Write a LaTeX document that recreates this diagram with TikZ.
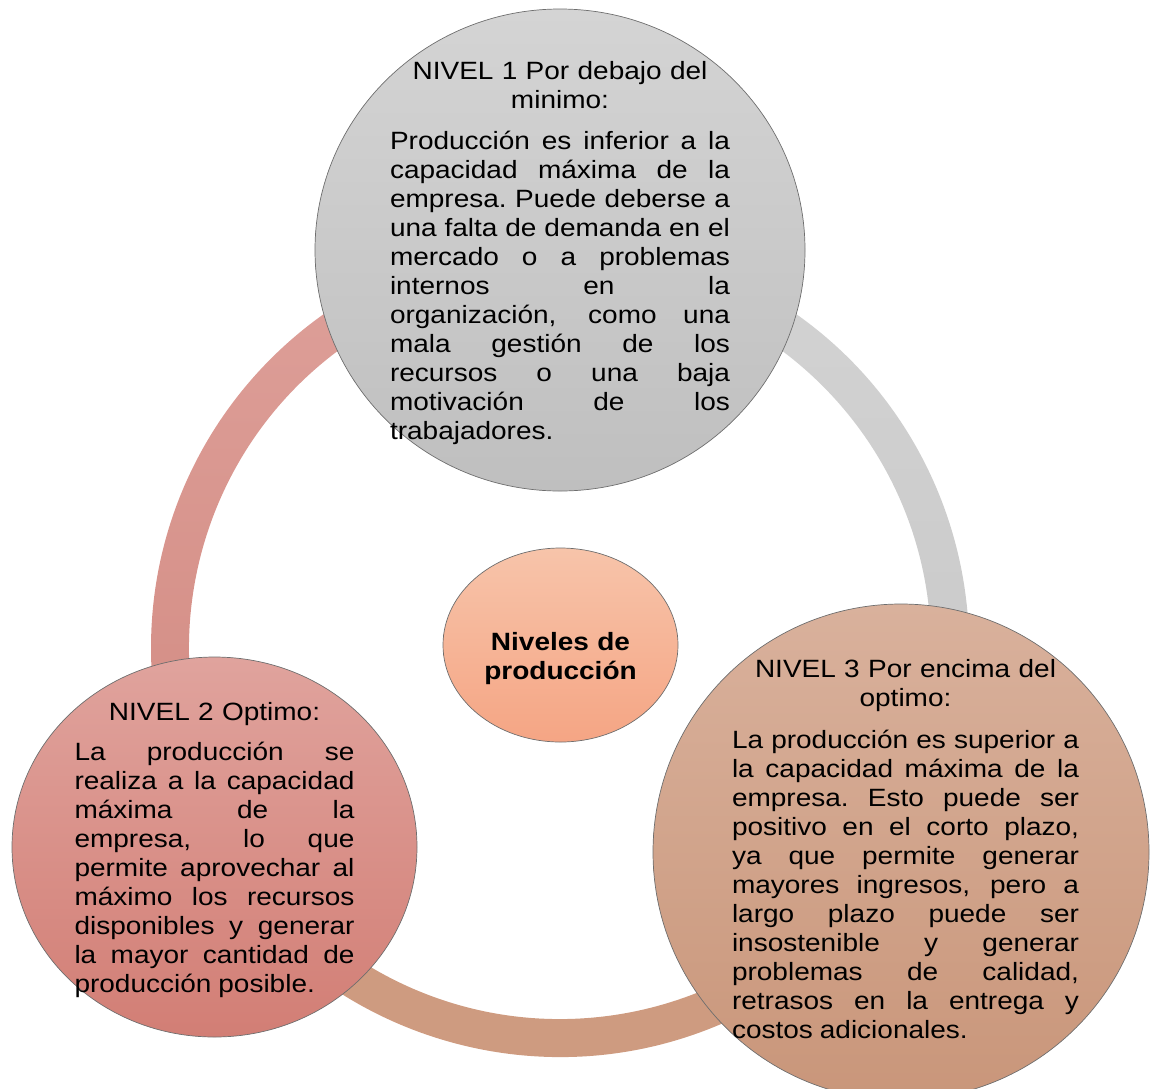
\documentclass[tikz,border=0pt]{standalone}
\usepackage{fontspec}
\setmainfont{Liberation Sans}[FakeStretch=1.12]
\usetikzlibrary{shapes.geometric,calc}
\definecolor{gTop}{HTML}{D4D4D4}
\definecolor{gBot}{HTML}{BFBFBF}
\definecolor{rTop}{HTML}{E0A39D}
\definecolor{rBot}{HTML}{D27E75}
\definecolor{tTop}{HTML}{D9B19C}
\definecolor{tBot}{HTML}{C9967A}
\definecolor{cTop}{HTML}{F7C4AA}
\definecolor{cBot}{HTML}{F5A584}
\definecolor{ringLTop}{HTML}{DEA09A}
\definecolor{ringLBot}{HTML}{D28A81}
\definecolor{ringRTop}{HTML}{D3D3D3}
\definecolor{ringRBot}{HTML}{C7C7C7}
\definecolor{ringB}{HTML}{CE9B80}
\definecolor{edge}{HTML}{6E6E6E}
\newcommand{\JL}[2]{\leavevmode{\spaceskip=0.25em plus 1fil\relax\xspaceskip=\spaceskip\hbox to #1{#2}}}
\newcommand{\LL}[2]{\leavevmode{\spaceskip=0.278em\relax\xspaceskip=\spaceskip\hbox to #1{#2\hfil}}}
\tikzset{
  bubble/.style={ellipse, draw=edge, line width=0.7pt, inner sep=0pt},
  txt/.style={inner sep=0pt, align=center, font=\fontsize{25pt}{29pt}\selectfont, anchor=north},
}
\begin{document}
\begin{tikzpicture}
\useasboundingbox (0pt,0pt) rectangle (1150pt,-1088pt);
\clip (0pt,0pt) rectangle (1150pt,-1088pt);
\coordinate (rc) at (560pt,-648pt);
% ring
\shade[top color=ringLTop, bottom color=ringLBot]
  ($(rc)+(90:409pt)$) arc[start angle=90, end angle=210, radius=409pt]
  -- ($(rc)+(210:371pt)$) arc[start angle=210, end angle=90, radius=371pt] -- cycle;
\fill[ringB]
  ($(rc)+(210:409pt)$) arc[start angle=210, end angle=330, radius=409pt]
  -- ($(rc)+(330:371pt)$) arc[start angle=330, end angle=210, radius=371pt] -- cycle;
\shade[top color=ringRTop, bottom color=ringRBot]
  ($(rc)+(330:409pt)$) arc[start angle=330, end angle=450, radius=409pt]
  -- ($(rc)+(450:371pt)$) arc[start angle=450, end angle=330, radius=371pt] -- cycle;
% circles
\node[bubble, minimum width=490pt, minimum height=482pt, top color=gTop, bottom color=gBot] (c1) at (560pt,-250pt) {};
\node[bubble, minimum width=405pt, minimum height=380pt, top color=rTop, bottom color=rBot] (c2) at (214.5pt,-847pt) {};
\node[bubble, minimum width=496pt, minimum height=496pt, top color=tTop, bottom color=tBot] (c3) at (901pt,-852pt) {};
\node[bubble, minimum width=235pt, minimum height=194pt, top color=cTop, bottom color=cBot] (c0) at (560.5pt,-645pt) {};
% texts
\node[txt, text width=340pt] (t1) at (560pt,-61pt) {NIVEL 1 Por debajo del\\ minimo:\\[12pt]
\JL{340pt}{Producción es inferior a la}\\
\JL{340pt}{capacidad máxima de la}\\
\JL{340pt}{empresa. Puede deberse a}\\
\JL{340pt}{una falta de demanda en el}\\
\JL{340pt}{mercado o a problemas}\\
\JL{340pt}{internos en la}\\
\JL{340pt}{organización, como una}\\
\JL{340pt}{mala gestión de los}\\
\JL{340pt}{recursos o una baja}\\
\JL{340pt}{motivación de los}\\
\LL{340pt}{trabajadores.}};
\node[txt, text width=280pt] (t2) at (214.5pt,-702pt) {NIVEL 2 Optimo:\\[11pt]
\JL{280pt}{La producción se}\\
\JL{280pt}{realiza a la capacidad}\\
\JL{280pt}{máxima de la}\\
\JL{280pt}{empresa, lo que}\\
\JL{280pt}{permite aprovechar al}\\
\JL{280pt}{máximo los recursos}\\
\JL{280pt}{disponibles y generar}\\
\JL{280pt}{la mayor cantidad de}\\
\LL{280pt}{producción posible.}};
\node[txt, text width=347pt] (t3) at (905.5pt,-659pt) {NIVEL 3 Por encima del\\ optimo:\\[13pt]
\JL{347pt}{La producción es superior a}\\
\JL{347pt}{la capacidad máxima de la}\\
\JL{347pt}{empresa. Esto puede ser}\\
\JL{347pt}{positivo en el corto plazo,}\\
\JL{347pt}{ya que permite generar}\\
\JL{347pt}{mayores ingresos, pero a}\\
\JL{347pt}{largo plazo puede ser}\\
\JL{347pt}{insostenible y generar}\\
\JL{347pt}{problemas de calidad,}\\
\JL{347pt}{retrasos en la entrega y}\\
\LL{347pt}{costos adicionales.}};
\node[txt, text width=235pt] (t0) at (560.5pt,-632pt) {\textbf{Niveles de}\\ \textbf{producción}};
\end{tikzpicture}
\end{document}
